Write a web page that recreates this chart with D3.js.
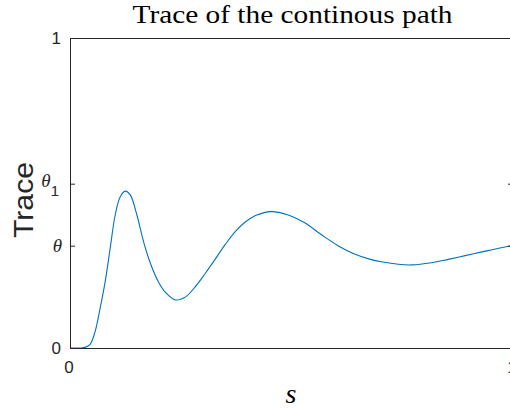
<!DOCTYPE html>
<html>
<head>
<meta charset="utf-8">
<script src="https://cdn.jsdelivr.net/npm/d3@7"></script>
<style>
  body { margin: 0; background: #fff; }
  svg { display: block; }
</style>
</head>
<body>
<div id="chart"></div>
<script>
// data
let sValues = [0, 0.0227, 0.034, 0.0454, 0.0567, 0.068, 0.0794, 0.0907, 0.102, 0.1134,
  0.1247, 0.136, 0.151, 0.166, 0.181, 0.2, 0.215, 0.238, 0.261, 0.283,
  0.306, 0.329, 0.351, 0.374, 0.397, 0.42, 0.454, 0.491, 0.529, 0.567,
  0.605, 0.642, 0.68, 0.703, 0.741, 0.771, 0.816, 0.854, 0.892, 0.93,
  0.968, 1.0];
let traceValues = [0, 0, 0.002, 0.012, 0.053, 0.128, 0.214, 0.322, 0.429, 0.488,
  0.506, 0.494, 0.429, 0.343, 0.275, 0.212, 0.18, 0.155, 0.165, 0.198,
  0.242, 0.289, 0.335, 0.377, 0.408, 0.428, 0.44, 0.43, 0.405, 0.366,
  0.33, 0.303, 0.285, 0.278, 0.27, 0.268, 0.275, 0.286, 0.298, 0.31,
  0.322, 0.331];

let theta = 0.33;
let theta1 = 0.53;
let xTicks = [0, 1];
let xTickLabels = ["0", "1"];
let yTicks = [0, theta, theta1, 1];

let svgWidth = 510;
let svgHeight = 412;

let margin = { top: 38, right: -3, bottom: 64, left: 70 };
let width = svgWidth - margin.left - margin.right;
let height = svgHeight - margin.top - margin.bottom;

let axisColor = "#262626";
let sansFont = "'Liberation Sans', Arial, Helvetica, sans-serif";
let serifFont = "'Liberation Serif', 'Times New Roman', serif";

let svg = d3.select("#chart").append("svg")
  .attr("width", svgWidth)
  .attr("height", svgHeight);

let chartGroup = svg.append("g")
  .attr("transform", `translate(${margin.left}, ${margin.top})`);

let xLinearScale = d3.scaleLinear().domain([0, 1]).range([0, width]);
let yLinearScale = d3.scaleLinear().domain([0, 1]).range([height, 0]);

// the curve
let points = sValues.map((s, i) => [s, traceValues[i]]);
let line = d3.line()
  .x(d => xLinearScale(d[0]))
  .y(d => yLinearScale(d[1]))
  .curve(d3.curveCatmullRom.alpha(0.5));

chartGroup.append("path")
  .datum(points)
  .attr("fill", "none")
  .attr("stroke", "#0072BD")
  .attr("stroke-width", 1.1)
  .attr("d", line);

// box axes, ticks pointing inward like matlab
let tickLen = 5;
let leftAxis = d3.axisLeft(yLinearScale).tickValues(yTicks).tickSize(-tickLen).tickFormat("");
let rightAxis = d3.axisRight(yLinearScale).tickValues(yTicks).tickSize(-tickLen).tickFormat("");
let bottomAxis = d3.axisBottom(xLinearScale).tickValues(xTicks).tickSize(-tickLen).tickFormat("");
let topAxis = d3.axisTop(xLinearScale).tickValues(xTicks).tickSize(-tickLen).tickFormat("");

chartGroup.append("g").call(leftAxis);
chartGroup.append("g").attr("transform", `translate(${width}, 0)`).call(rightAxis);
chartGroup.append("g").attr("transform", `translate(0, ${height})`).call(bottomAxis);
chartGroup.append("g").call(topAxis);

chartGroup.selectAll(".domain, .tick line")
  .attr("stroke", axisColor)
  .attr("stroke-width", 1);

// y tick labels
let yLabelGroup = chartGroup.append("g")
  .attr("fill", axisColor);

yLabelGroup.selectAll(".num")
  .data([0, 1])
  .enter()
  .append("text")
  .attr("x", -9)
  .attr("y", d => yLinearScale(d) + 6)
  .attr("text-anchor", "end")
  .attr("font-family", sansFont)
  .attr("font-size", "17px")
  .text(d => d);

yLabelGroup.append("text")
  .attr("x", -8)
  .attr("y", yLinearScale(theta) + 6)
  .attr("text-anchor", "end")
  .attr("font-family", serifFont)
  .attr("font-style", "italic")
  .attr("font-size", "19px")
  .text("θ");

let t1 = yLabelGroup.append("text")
  .attr("x", -11)
  .attr("y", yLinearScale(theta1) + 3)
  .attr("text-anchor", "end");
t1.append("tspan")
  .attr("font-family", serifFont)
  .attr("font-style", "italic")
  .attr("font-size", "19px")
  .text("θ");
t1.append("tspan")
  .attr("font-family", sansFont)
  .attr("font-size", "15px")
  .attr("dy", 9)
  .text("1");

// x tick labels
chartGroup.append("g")
  .selectAll("text")
  .data(xTicks)
  .enter()
  .append("text")
  .attr("x", d => xLinearScale(d) - 1)
  .attr("y", height + 25)
  .attr("text-anchor", "middle")
  .attr("font-family", sansFont)
  .attr("font-size", "17px")
  .attr("fill", axisColor)
  .text((d, i) => xTickLabels[i]);

// title
svg.append("text")
  .attr("x", 292.5)
  .attr("y", 23)
  .attr("text-anchor", "middle")
  .attr("font-family", serifFont)
  .attr("font-size", "25px")
  .attr("textLength", 320)
  .attr("lengthAdjust", "spacingAndGlyphs")
  .attr("fill", "#000")
  .text("Trace of the continous path");

// axis labels
svg.append("text")
  .attr("x", 291)
  .attr("y", 403)
  .attr("text-anchor", "middle")
  .attr("font-family", serifFont)
  .attr("font-style", "italic")
  .attr("font-size", "28px")
  .attr("fill", "#000")
  .text("s");

svg.append("text")
  .attr("transform", "translate(33, 200) rotate(-90)")
  .attr("text-anchor", "middle")
  .attr("font-family", sansFont)
  .attr("font-size", "27px")
  .attr("textLength", 76)
  .attr("lengthAdjust", "spacingAndGlyphs")
  .attr("fill", axisColor)
  .text("Trace");
</script>
</body>
</html>
